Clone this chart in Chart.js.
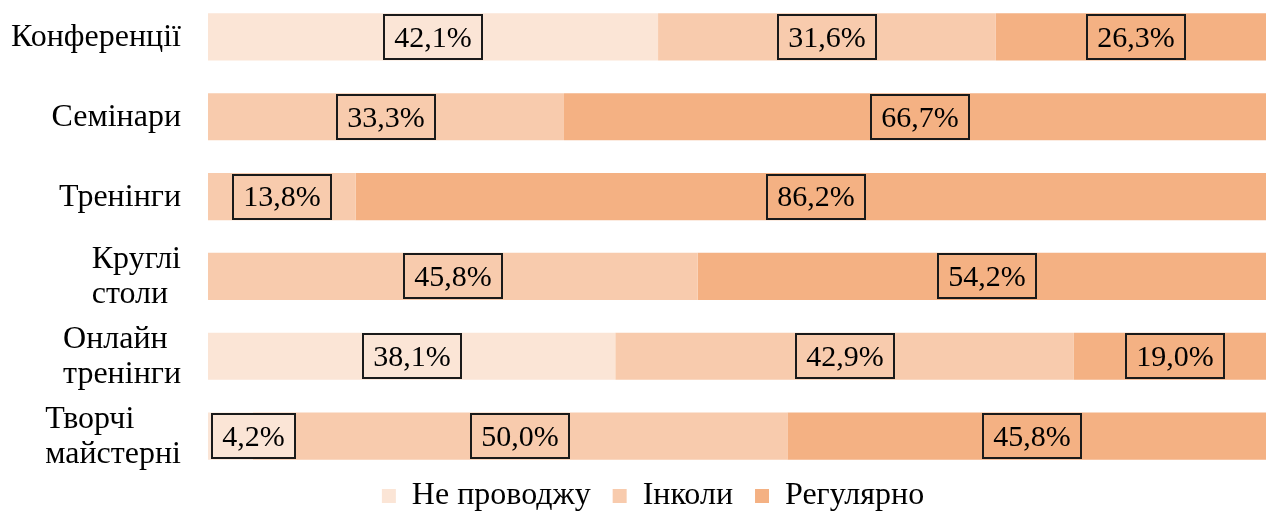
<!DOCTYPE html>
<html>
<head>
<meta charset="utf-8">
<script src="https://cdn.jsdelivr.net/npm/chart.js@4.4.0/dist/chart.umd.min.js"></script>
<style>
	html, body { margin: 0; padding: 0; background: #fff; overflow: hidden; width: 1266px; height: 511px; }
	#wrap { position: absolute; left: 0; top: -3px; width: 1277px; height: 543px; }
</style>
</head>
<body>
<div id="wrap"><canvas id="usage"></canvas></div>
<script>
	const categories = [
		'Конференції',
		'Семінари',
		'Тренінги',
		[ 'Круглі', 'столи' ],
		[ 'Онлайн', 'тренінги' ],
		[ 'Творчі', 'майстерні' ],
	];
	const seriesNames = [ 'Не проводжу', 'Інколи', 'Регулярно' ];
	const neverValues = [ 42.1, 0, 0, 0, 38.1, 4.2 ];
	const sometimesValues = [ 31.6, 33.3, 13.8, 45.8, 42.9, 50.0 ];
	const regularValues = [ 26.3, 66.7, 86.2, 54.2, 19.0, 45.8 ];

	const colors = [ '#FBE5D6', '#F8CBAD', '#F4B183' ];
	const serif = "'Liberation Serif', 'Times New Roman', serif";

	// category names left of the bars: block flush right, wrapped lines flush left
	const categoryLabels = {
		id: 'categoryLabels',
		afterDraw( chart ) {
			const ctx = chart.ctx;
			const yScale = chart.scales.y;
			const right = chart.chartArea.left - 27;
			ctx.save();
			ctx.font = '32px ' + serif;
			ctx.fillStyle = '#000';
			ctx.textAlign = 'left';
			ctx.textBaseline = 'middle';
			chart.data.labels.forEach( function ( label, i ) {
				const lines = Array.isArray( label ) ? label : [ label ];
				const widest = Math.max.apply( null, lines.map( function ( l ) { return ctx.measureText( l ).width; } ) );
				const x = right - widest;
				const cy = yScale.getPixelForTick( i );
				lines.forEach( function ( line, k ) {
					ctx.fillText( line, x, cy + 1 + ( k - ( lines.length - 1 ) / 2 ) * 35 );
				} );
			} );
			ctx.restore();
		},
	};

	// boxed percentage labels centred on every non-empty segment
	const boxLabels = {
		id: 'boxLabels',
		afterDatasetsDraw( chart ) {
			const ctx = chart.ctx;
			const area = chart.chartArea;
			ctx.save();
			ctx.font = '30px ' + serif;
			ctx.textBaseline = 'middle';
			ctx.textAlign = 'center';
			chart.data.datasets.forEach( function ( ds, i ) {
				const meta = chart.getDatasetMeta( i );
				meta.data.forEach( function ( bar, j ) {
					const v = ds.data[ j ];
					if ( ! v ) return;
					const txt = v.toFixed( 1 ).replace( '.', ',' ) + '%';
					const w = Math.round( ctx.measureText( txt ).width + 23 );
					const h = Math.round( bar.height - 1 );
					let cx = ( bar.x + bar.base ) / 2;
					if ( cx - w / 2 < area.left + 3 ) cx = area.left + 3 + w / 2;
					const x0 = Math.round( cx - w / 2 );
					const y0 = Math.round( bar.y - h / 2 );
					ctx.fillStyle = ds.backgroundColor;
					ctx.fillRect( x0, y0, w, h );
					ctx.lineWidth = 2;
					ctx.strokeStyle = '#1a1a1a';
					ctx.strokeRect( x0 + 1, y0 + 1, w - 2, h - 2 );
					ctx.fillStyle = '#000';
					ctx.fillText( txt, x0 + w / 2, bar.y + 2 );
				} );
			} );
			ctx.restore();
		},
	};

	new Chart( document.getElementById( 'usage' ), {
		type: 'bar',
		data: {
			labels: categories,
			datasets: [
				{ label: seriesNames[0], data: neverValues, backgroundColor: colors[0] },
				{ label: seriesNames[1], data: sometimesValues, backgroundColor: colors[1] },
				{ label: seriesNames[2], data: regularValues, backgroundColor: colors[2] },
			],
		},
		options: {
			indexAxis: 'y',
			responsive: true,
			maintainAspectRatio: false,
			animation: false,
			datasets: { bar: { barPercentage: 0.59, categoryPercentage: 1 } },
			layout: { padding: { left: 29, right: 0, top: 0, bottom: 0 } },
			plugins: {
				legend: {
					position: 'bottom',
					labels: {
						color: '#000',
						font: { family: serif, size: 32 },
						boxWidth: 14,
						boxHeight: 14,
						padding: 22,
					},
				},
				tooltip: { enabled: false },
			},
			scales: {
				x: {
					stacked: true,
					min: 0,
					max: 100,
					grid: { display: false, drawTicks: false },
					border: { display: false },
					ticks: { display: false },
					// pull the legend up under the last bar
					afterFit: function ( scale ) { scale.height = -18; },
				},
				y: {
					stacked: true,
					grid: { display: false, drawTicks: false },
					border: { display: false },
					ticks: { display: false },
					afterFit: function ( scale ) {
						scale.width = 179;
						scale.paddingTop = 0;
						scale.paddingBottom = 0;
					},
				},
			},
		},
		plugins: [ boxLabels, categoryLabels ],
	} );
</script>
</body>
</html>
